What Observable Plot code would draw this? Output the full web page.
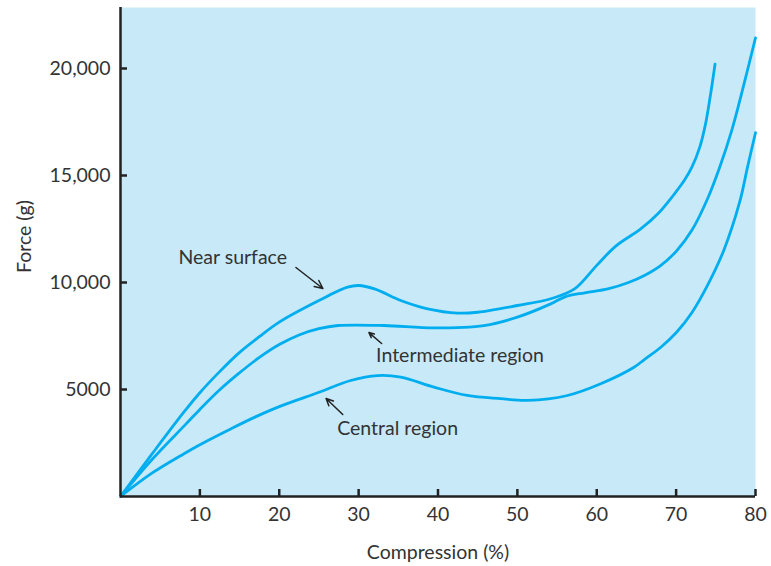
<!DOCTYPE html>
<html>
<head>
<meta charset="utf-8">
<script src="https://cdn.jsdelivr.net/npm/d3@7"></script>
<script src="https://cdn.jsdelivr.net/npm/@observablehq/plot@0.6"></script>
<style>
  html, body { margin: 0; padding: 0; background: #fff; }
</style>
</head>
<body>
<div id="chart"></div>
<script>
// Data (Compression %, Force g)
const nearX = [0, 4, 8, 10, 12.4, 14.9, 17.5, 20, 25, 28.6, 30, 32, 35.3, 38.7, 42.5, 45, 50, 54.2, 57.2, 60, 62.4, 65.5, 67.7, 69.7, 71, 72, 73, 73.7, 74.3, 74.9];
const nearY = [0, 2000, 3950, 4850, 5800, 6700, 7470, 8150, 9160, 9780, 9860, 9700, 9160, 8770, 8570, 8610, 8925, 9240, 9700, 10800, 11700, 12490, 13210, 14100, 14750, 15400, 16350, 17400, 18700, 20200];

const interX = [0, 4, 8.2, 10, 12.4, 14.9, 17.5, 20, 22.5, 25, 27.4, 33.2, 39.5, 45.8, 50, 54.2, 56, 58.5, 61.4, 64, 66, 68, 70, 72, 74, 75.5, 77, 78.5, 80];
const interY = [0, 1740, 3370, 4070, 4950, 5750, 6500, 7100, 7550, 7840, 7990, 7990, 7880, 7990, 8380, 9000, 9330, 9520, 9700, 10000, 10330, 10780, 11450, 12450, 13950, 15400, 17100, 19200, 21430];

const centralX = [0, 4, 8, 10, 14, 17, 20, 25, 29, 32.4, 35.3, 39.5, 43.7, 47.9, 51.3, 56.3, 60.5, 64.7, 66, 68, 70, 72, 74, 76, 78, 79, 80];
const centralY = [0, 1100, 2000, 2420, 3180, 3720, 4200, 4870, 5420, 5650, 5580, 5110, 4720, 4570, 4490, 4720, 5270, 6040, 6400, 6950, 7650, 8600, 9900, 11500, 13750, 15400, 17000];

const xTicks = [10, 20, 30, 40, 50, 60, 70, 80];
const yTicks = [5000, 10000, 15000, 20000];
const yTickLabels = ["5000", "10,000", "15,000", "20,000"];

const labelTexts = ["Near surface", "Intermediate region", "Central region"];
const labelX = [7.3, 32.2, 27.3];
const labelY = [11170, 6590, 3180];

const arrowX1 = [22.1, 32.9, 28.0];
const arrowY1 = [10700, 7150, 3830];
const arrowX2 = [25.5, 31.3, 25.9];
const arrowY2 = [9720, 7660, 4580];

const xLabel = "Compression (%)";
const yLabel = "Force (g)";

// Build tables
const toPts = (xs, ys) => xs.map((x, i) => ({x, y: ys[i]}));
const near = toPts(nearX, nearY);
const inter = toPts(interX, interY);
const central = toPts(centralX, centralY);
const labels = labelTexts.map((t, i) => ({t, x: labelX[i], y: labelY[i]}));
const arrows = arrowX1.map((x1, i) => ({x1, y1: arrowY1[i], x2: arrowX2[i], y2: arrowY2[i]}));

const lineColor = "#00aeef";
const ink = "#222";
const textColor = "#333";
const fs = 19.5;

const chart = Plot.plot({
  width: 771,
  height: 566,
  marginLeft: 120,
  marginRight: 16,
  marginTop: 7,
  marginBottom: 70,
  style: {fontFamily: "Lato, 'Open Sans', sans-serif", fontSize: fs + "px", color: textColor, background: "white", overflow: "visible"},
  x: {domain: [0, 80]},
  y: {domain: [0, 22850]},
  marks: [
    Plot.frame({fill: "#c8e9f8", stroke: null}),
    Plot.line(near, {x: "x", y: "y", curve: "catmull-rom", stroke: lineColor, strokeWidth: 2.8}),
    Plot.line(inter, {x: "x", y: "y", curve: "catmull-rom", stroke: lineColor, strokeWidth: 2.8}),
    Plot.line(central, {x: "x", y: "y", curve: "catmull-rom", stroke: lineColor, strokeWidth: 2.8}),
    Plot.axisX({ticks: xTicks, tickSize: -7, tickPadding: 18, tickFormat: d => String(d), stroke: ink, strokeWidth: 2.5, label: null}),
    Plot.axisY({ticks: yTicks, tickSize: -7, tickPadding: 17, tickFormat: d => yTickLabels[yTicks.indexOf(d)], stroke: ink, strokeWidth: 2.5, label: null}),
    Plot.ruleX([0], {stroke: ink, strokeWidth: 2.5}),
    Plot.ruleY([0], {stroke: ink, strokeWidth: 2.5}),
    Plot.text(labels, {x: "x", y: "y", text: "t", textAnchor: "start", fill: textColor, fontSize: fs}),
    Plot.arrow(arrows, {x1: "x1", y1: "y1", x2: "x2", y2: "y2", stroke: ink, strokeWidth: 1.5, headLength: 9, headAngle: 50}),
    Plot.text([yLabel], {frameAnchor: "left", dx: -96, dy: 21, rotate: -90, fill: textColor, fontSize: fs}),
    Plot.text([xLabel], {frameAnchor: "bottom", dy: 62, fill: textColor, fontSize: fs})
  ]
});
document.getElementById("chart").appendChild(chart);
</script>
</body>
</html>
